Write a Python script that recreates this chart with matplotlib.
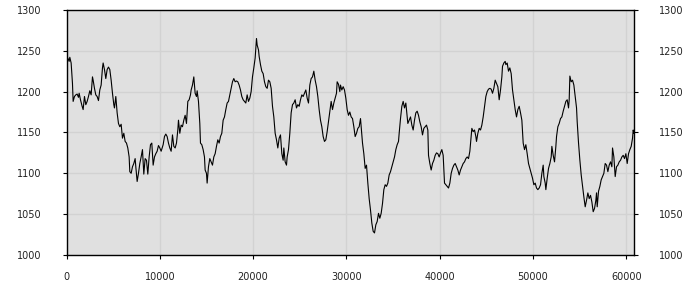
import numpy as np
import matplotlib
matplotlib.use("Agg")
import matplotlib.pyplot as plt

# values, in six chunks along the x axis
x1 = [0, 140, 283, 354, 497, 640, 711, 854, 997, 1140, 1283, 1355, 1498, 1676, 1783,
      1926, 2069, 2212, 2355, 2498, 2641, 2784, 2855, 2998, 3141, 3284, 3427, 3570, 3713,
      3856, 3927, 4070, 4213, 4356, 4499, 4642, 4785, 4928, 5071, 5142, 5285, 5428, 5571,
      5714, 5857, 6000, 6143, 6286, 6429, 6571, 6714, 6786, 6929, 7072, 7214, 7357, 7429,
      7572, 7715, 7858, 8000, 8143, 8286, 8429, 8572, 8715, 8858, 9001, 9144, 9287, 9430,
      9572, 9715, 9858, 10001, 10144]
y1 = [1231, 1241, 1237, 1242, 1235, 1210, 1188, 1194, 1196, 1197, 1193, 1198, 1190, 1182, 1178,
      1194, 1184, 1188, 1194, 1201, 1196, 1218, 1214, 1204, 1196, 1194, 1189, 1202, 1208,
      1229, 1235, 1227, 1216, 1227, 1230, 1227, 1214, 1198, 1184, 1180, 1194, 1174, 1161,
      1157, 1160, 1143, 1149, 1139, 1137, 1131, 1120, 1102, 1100, 1108, 1112, 1118, 1108,
      1090, 1100, 1112, 1120, 1129, 1099, 1118, 1116, 1099, 1120, 1135, 1137, 1110, 1120,
      1124, 1127, 1134, 1131, 1127]

x2 = [10359, 10502, 10645, 10787, 10930, 11073, 11216, 11359, 11502, 11645, 11788, 11931,
      12002, 12145, 12288, 12431, 12574, 12717, 12860, 13003, 13146, 13289, 13360, 13503,
      13646, 13789, 13932, 14003, 14146, 14289, 14360, 14503, 14646, 14789, 14860, 15003,
      15074, 15217, 15360, 15504, 15647, 15790, 15933, 16076, 16218, 16361, 16504, 16647,
      16790, 16933, 17076, 17219, 17362, 17505, 17648, 17791, 17933, 18076, 18219, 18362,
      18505, 18648, 18791, 18934, 19077, 19220, 19363, 19506, 19649, 19792, 19934, 20077, 20220]
y2 = [1135, 1145, 1148, 1145, 1137, 1131, 1127, 1147, 1133, 1131, 1137, 1153,
      1165, 1149, 1159, 1157, 1165, 1171, 1161, 1188, 1190, 1196, 1202, 1208,
      1218, 1198, 1194, 1201, 1188, 1161, 1137, 1135, 1129, 1120, 1104, 1100,
      1088, 1108, 1118, 1114, 1110, 1120, 1124, 1133, 1141, 1137, 1145, 1149,
      1165, 1169, 1178, 1186, 1188, 1196, 1204, 1212, 1216, 1212, 1213, 1212,
      1208, 1202, 1194, 1190, 1188, 1186, 1196, 1188, 1192, 1200, 1218, 1229, 1241]

x3 = [20293, 20364, 20436, 20579, 20650, 20793, 20936, 21079, 21222, 21365, 21508, 21651,
      21794, 21937, 22079, 22222, 22365, 22508, 22651, 22794, 22937, 23080, 23223, 23294,
      23437, 23580, 23651, 23794, 23937, 24080, 24223, 24366, 24509, 24652, 24795, 24938,
      25081, 25224, 25366, 25509, 25652, 25795, 25938, 26081, 26224, 26367, 26510, 26653,
      26796, 26939, 27081, 27224, 27367, 27510, 27653, 27796, 27939, 28082, 28225, 28368,
      28511, 28654, 28797, 28939, 29011, 29154, 29297, 29368, 29511, 29654, 29797, 29940,
      30083, 30226, 30369]
y3 = [1253, 1265, 1257, 1251, 1243, 1233, 1225, 1222, 1212, 1206, 1204, 1214,
      1212, 1204, 1182, 1169, 1149, 1141, 1131, 1143, 1147, 1124, 1116, 1131,
      1114, 1110, 1120, 1129, 1149, 1174, 1184, 1186, 1190, 1180, 1184, 1182,
      1190, 1196, 1194, 1198, 1202, 1192, 1186, 1208, 1216, 1218, 1225, 1214,
      1206, 1194, 1178, 1165, 1157, 1145, 1139, 1141, 1151, 1163, 1174, 1188,
      1178, 1186, 1192, 1198, 1212, 1209, 1200, 1208, 1202, 1206, 1202, 1192,
      1178, 1171, 1175]

x4 = [30513, 30656, 30799, 30941, 31084, 31227, 31370, 31513, 31585, 31728, 31870, 32013,
      32156, 32299, 32442, 32585, 32728, 32871, 33014, 33157, 33300, 33443, 33585, 33728,
      33871, 34014, 34157, 34300, 34443, 34586, 34729, 34872, 35015, 35158, 35301, 35443,
      35586, 35658, 35801, 35944, 36087, 36229, 36372, 36444, 36587, 36730, 36873, 37016,
      37158, 37301, 37444, 37587, 37730, 37873, 38016, 38159, 38302, 38445, 38588, 38731,
      38802, 38945, 39088, 39231, 39374, 39517, 39660, 39803, 39945, 40088, 40231, 40374]
y4 = [1169, 1167, 1157, 1145, 1149, 1155, 1157, 1167, 1157, 1137, 1124, 1106,
      1110, 1088, 1069, 1055, 1039, 1029, 1027, 1037, 1041, 1051, 1045, 1051,
      1063, 1080, 1086, 1084, 1088, 1098, 1102, 1108, 1114, 1120, 1129, 1135,
      1139, 1149, 1167, 1182, 1188, 1180, 1186, 1178, 1161, 1165, 1169, 1159,
      1153, 1165, 1174, 1176, 1171, 1163, 1157, 1147, 1155, 1157, 1159, 1153,
      1122, 1112, 1104, 1112, 1116, 1122, 1125, 1124, 1120, 1125, 1129, 1122]

x5 = [40518, 40661, 40804, 40947, 41090, 41233, 41376, 41519, 41662, 41805, 41947, 42090,
      42233, 42376, 42519, 42662, 42805, 42948, 43091, 43234, 43377, 43448, 43591, 43734,
      43877, 43948, 44091, 44234, 44377, 44520, 44663, 44806, 44949, 45092, 45235, 45378,
      45520, 45663, 45806, 45949, 46092, 46235, 46378, 46521, 46664, 46735, 46878, 47021,
      47093, 47235, 47378, 47521, 47664, 47807, 47950, 48093, 48236, 48379, 48522, 48665,
      48808, 48951, 49093, 49236, 49379, 49522, 49665, 49808, 49951, 50094, 50237, 50380, 50523]
y5 = [1088, 1086, 1084, 1082, 1088, 1100, 1106, 1110, 1112, 1108, 1104, 1098,
      1104, 1108, 1112, 1114, 1118, 1120, 1118, 1127, 1145, 1155, 1151, 1153,
      1145, 1139, 1149, 1155, 1153, 1159, 1169, 1182, 1194, 1200, 1203, 1204,
      1203, 1198, 1204, 1214, 1210, 1206, 1190, 1202, 1218, 1231, 1235, 1237,
      1233, 1235, 1225, 1229, 1222, 1202, 1190, 1178, 1169, 1178, 1182, 1174,
      1165, 1137, 1129, 1135, 1124, 1112, 1106, 1100, 1094, 1086, 1088, 1082, 1080]

x6 = [50667, 50810, 50953, 51095, 51167, 51310, 51381, 51524, 51667, 51810, 51953, 52024,
      52167, 52310, 52453, 52525, 52668, 52810, 52953, 53096, 53239, 53382, 53525, 53668,
      53811, 53882, 53954, 54097, 54240, 54383, 54526, 54669, 54740, 54883, 55026, 55169,
      55312, 55455, 55598, 55740, 55883, 56026, 56169, 56312, 56455, 56598, 56741, 56812,
      56884, 57027, 57170, 57312, 57455, 57598, 57741, 57884, 58027, 58170, 58313, 58456,
      58527, 58670, 58813, 58956, 59099, 59242, 59385, 59528, 59671, 59814, 59957, 60099,
      60242, 60385, 60528, 60671, 60743, 60814]
y6 = [1082, 1086, 1100, 1110, 1096, 1088, 1080, 1094, 1106, 1112, 1120, 1133,
      1122, 1114, 1133, 1145, 1157, 1161, 1167, 1169, 1176, 1182, 1188, 1190,
      1180, 1190, 1219, 1212, 1214, 1208, 1194, 1180, 1163, 1137, 1116, 1098,
      1084, 1071, 1059, 1067, 1076, 1069, 1073, 1065, 1053, 1057, 1067, 1076,
      1059, 1078, 1084, 1092, 1096, 1100, 1112, 1110, 1102, 1110, 1114, 1108,
      1131, 1120, 1096, 1108, 1110, 1114, 1116, 1120, 1122, 1118, 1124, 1112,
      1124, 1129, 1133, 1143, 1153, 1149]

xticks = [0, 10000, 20000, 30000, 40000, 50000, 60000]
yticks = [1000, 1050, 1100, 1150, 1200, 1250, 1300]

x = np.concatenate([x1, x2, x3, x4, x5, x6])
y = np.concatenate([y1, y2, y3, y4, y5, y6])

fig = plt.figure(figsize=(7, 3), dpi=100)
ax = fig.add_axes([0.095, 0.15, 0.811, 0.817])
ax.set_facecolor('#e0e0e0')
ax.plot(x, y, color='black', lw=0.8)

ax.set_xlim(0, 60850)
ax.set_ylim(1000, 1300)
ax.set_xticks(xticks)
ax.set_yticks(yticks)
ax.grid(True, color='#d2d2d2', lw=1)
ax.set_axisbelow(True)

for s in ax.spines.values():
    s.set_color('black')
    s.set_linewidth(1)

ax.tick_params(axis='y', right=True, labelright=True, length=3, pad=15,
               labelsize=7, labelcolor='#222222')
ax.tick_params(axis='x', length=3, pad=9, labelsize=7, labelcolor='#222222')

fig.savefig('out.png', dpi=100)
